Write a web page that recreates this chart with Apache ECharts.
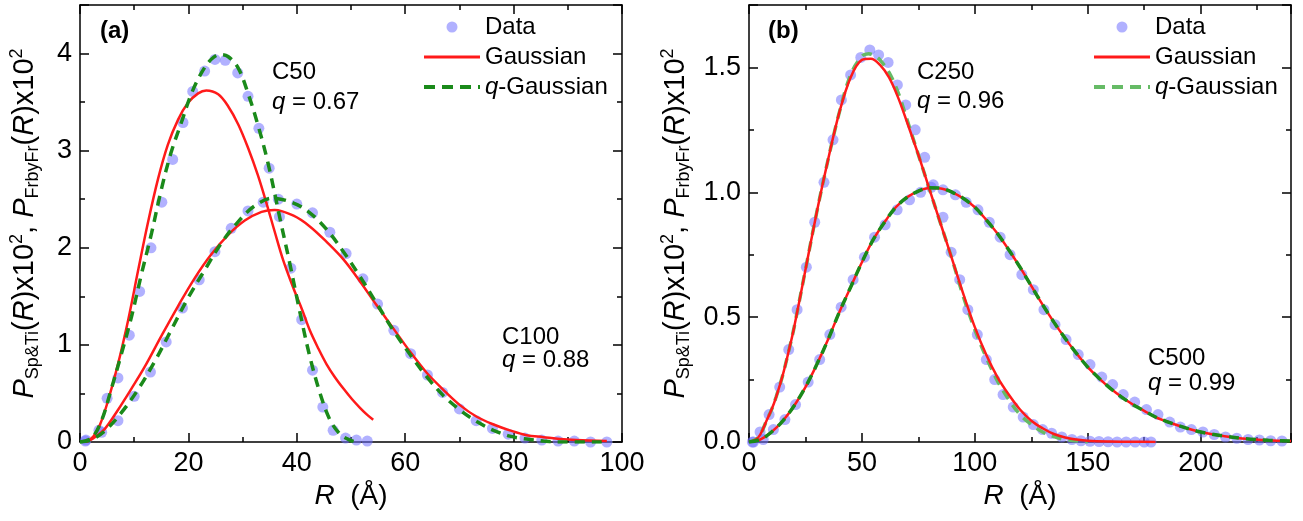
<!DOCTYPE html>
<html><head><meta charset="utf-8">
<script src="https://cdn.jsdelivr.net/npm/echarts@6/dist/echarts.min.js"></script>
<style>html,body{margin:0;padding:0;background:#fff}#c{width:1303px;height:521px}</style>
</head><body><div id="c"></div>
<script>
const FONT = 'Liberation Sans, Arial, sans-serif';

// ---- tick labels / axis ranges ----
const xTicksA = [0, 20, 40, 60, 80, 100];
const yTicksA = [0, 1, 2, 3, 4];
const xTicksB = [0, 50, 100, 150, 200];
const yTicksB = [0.0, 0.5, 1.0, 1.5];
const xMaxA = 100, yMaxA = 4.5, xMaxB = 240, yMaxB = 1.75;

// ---- panel (a) ----
const c50Data = [[1.1,0.02],[3.5,0.12],[5.0,0.45],[7.0,0.66],[9.1,1.10],[11.0,1.55],[13.1,2.00],[15.1,2.47],[17.1,2.91],[19.0,3.29],[20.8,3.61],[23.0,3.82],[24.9,3.94],[26.8,3.93],[29.1,3.80],[31.0,3.56],[33.0,3.23],[34.9,2.82],[36.8,2.32],[38.9,1.79],[40.9,1.26],[42.9,0.74],[44.8,0.36],[46.7,0.12],[49.0,0.04],[51.0,0.02],[53.0,0.01]];
const c100Data = [[1.0,0.01],[4.0,0.10],[7.0,0.22],[10.0,0.47],[13.0,0.72],[15.9,1.03],[18.9,1.38],[22.0,1.67],[24.9,1.96],[27.9,2.20],[31.0,2.38],[33.8,2.47],[36.6,2.50],[40.0,2.45],[42.9,2.36],[46.1,2.16],[49.1,1.94],[52.2,1.68],[54.9,1.42],[57.9,1.15],[61.0,0.91],[64.1,0.69],[66.9,0.51],[70.0,0.34],[73.1,0.22],[76.1,0.14],[79.0,0.08],[82.1,0.04],[85.2,0.02],[88.2,0.01],[91.2,0.01],[94.2,0.00],[97.2,0.00]];
const c50Gauss = [[1.2,0],[2.5,0.06],[3.7,0.18],[5.2,0.43],[7.0,0.80],[8.9,1.26],[10.7,1.76],[12.5,2.25],[14.4,2.71],[16.2,3.06],[18.1,3.32],[19.9,3.49],[21.8,3.59],[23.3,3.62],[25.5,3.58],[27.3,3.46],[29.2,3.27],[31.0,3.03],[32.8,2.75],[34.4,2.46],[35.9,2.17],[37.5,1.87],[39.4,1.58],[41.0,1.36],[42.4,1.15],[44.0,0.96],[45.5,0.80],[47.0,0.67],[48.6,0.55],[50.2,0.44],[51.7,0.35],[53.0,0.28],[54.1,0.23]];
const c100Gauss = [[1.0,0],[2.5,0.04],[4.5,0.13],[7.0,0.33],[9.5,0.55],[11.9,0.77],[15.0,1.09],[18.1,1.40],[21.2,1.69],[24.2,1.93],[27.3,2.13],[30.4,2.28],[33.5,2.37],[35.9,2.39],[39.4,2.33],[42.4,2.22],[45.5,2.06],[48.6,1.88],[51.7,1.65],[54.7,1.41],[57.8,1.17],[60.9,0.93],[64.0,0.71],[67.0,0.54],[70.1,0.38],[73.2,0.26],[76.3,0.18],[79.3,0.12],[82.4,0.07],[85.5,0.05],[88.6,0.03],[91.6,0.02],[97.2,0.01]];
const c50QGauss = [[0,0],[2.1,0.04],[3.9,0.21],[5.8,0.55],[7.6,0.90],[9.5,1.29],[11.3,1.72],[13.2,2.15],[15.0,2.60],[16.8,2.98],[18.7,3.29],[20.5,3.58],[22.4,3.80],[24.2,3.94],[25.8,3.99],[27.3,3.97],[29.2,3.85],[31.0,3.59],[32.8,3.27],[34.7,2.87],[36.9,2.30],[38.7,1.84],[40.6,1.33],[42.4,0.88],[44.3,0.50],[46.1,0.23],[48.0,0.08],[49.8,0.02],[51.0,0]];
const c100QGauss = [[0,0],[2.0,0.02],[4.5,0.11],[7.6,0.30],[10.7,0.54],[13.8,0.83],[16.8,1.15],[19.9,1.48],[23.0,1.77],[26.1,2.05],[29.2,2.27],[32.2,2.43],[35.5,2.51],[39.4,2.46],[42.4,2.36],[45.5,2.19],[48.6,1.96],[51.7,1.70],[54.7,1.43],[57.8,1.15],[60.9,0.90],[64.0,0.67],[67.0,0.48],[70.1,0.33],[73.2,0.21],[76.3,0.12],[79.3,0.06],[82.4,0.03],[85.5,0.01],[88.0,0],[97.2,0]];

// ---- panel (b) ----
const c250Data = [[1.5,0.00],[4.9,0.04],[8.9,0.11],[13.6,0.22],[17.6,0.37],[21.3,0.53],[25.4,0.70],[29.1,0.88],[33.2,1.04],[37.2,1.21],[40.9,1.37],[45.0,1.47],[49.5,1.54],[53.5,1.57],[57.4,1.55],[61.6,1.52],[65.7,1.43],[69.4,1.35],[73.6,1.25],[77.8,1.14],[81.6,1.03],[85.9,0.90],[89.5,0.76],[93.3,0.65],[96.9,0.53],[101.1,0.43],[105.1,0.33],[108.8,0.25],[112.5,0.19],[117.0,0.14],[121.4,0.10],[125.9,0.07],[130.0,0.05],[134.0,0.035],[138.5,0.02],[143.0,0.01],[147.0,0.005],[151.0,0.003],[155.0,0.002],[159.0,0.001],[163.0,0],[167.0,0],[171.0,0],[175.0,0],[178.0,0]];
const c500Data = [[2.0,0.00],[6.3,0.01],[10.8,0.05],[15.9,0.09],[20.6,0.15],[26.2,0.24],[31.3,0.33],[35.8,0.43],[40.8,0.54],[46.1,0.65],[51.1,0.74],[55.6,0.82],[60.3,0.87],[65.6,0.93],[71.1,0.97],[76.0,1.00],[80.7,1.02],[85.9,1.01],[91.4,0.99],[96.2,0.96],[101.4,0.93],[106.4,0.88],[111.2,0.82],[115.6,0.75],[120.8,0.67],[125.9,0.61],[130.6,0.53],[135.5,0.47],[140.4,0.41],[145.8,0.35],[151.0,0.31],[156.2,0.26],[161.0,0.23],[165.7,0.19],[170.8,0.16],[176.0,0.13],[181.1,0.11],[186.3,0.08],[191.0,0.06],[195.9,0.05],[201.0,0.04],[206.0,0.03],[211.0,0.02],[216.0,0.015],[221.0,0.01],[226.0,0.008],[231.0,0.005],[236.0,0.004]];
const c250Gauss = [[0,0],[3,0.01],[5,0.03],[8,0.09],[10,0.13],[12,0.18],[15,0.27],[18,0.38],[20,0.46],[25,0.69],[30,0.92],[35,1.13],[40,1.32],[45,1.46],[50,1.53],[54,1.535],[58,1.51],[62,1.46],[66,1.38],[70,1.28],[75,1.15],[80,1.01],[85,0.87],[90,0.73],[95,0.59],[100,0.46],[105,0.35],[110,0.26],[115,0.19],[120,0.13],[125,0.085],[130,0.055],[135,0.032],[140,0.018],[145,0.01],[150,0.005],[160,0.002],[170,0.001],[180,0]];
const c250QGauss = [[0,0],[3,0.01],[5,0.03],[8,0.09],[10,0.13],[12,0.18],[15,0.27],[18,0.38],[20,0.46],[25,0.69],[30,0.92],[35,1.13],[40,1.32],[45,1.47],[50,1.545],[53,1.555],[56,1.545],[58,1.53],[62,1.48],[66,1.40],[70,1.29],[75,1.15],[80,1.01],[85,0.87],[90,0.73],[95,0.58],[100,0.45],[105,0.34],[110,0.245],[115,0.17],[120,0.11],[125,0.07],[130,0.04],[135,0.022],[140,0.01],[145,0.005],[150,0]];
const c500Gauss = [[0,0],[5,0.01],[10,0.04],[15,0.085],[20,0.145],[25,0.22],[30,0.31],[35,0.41],[40,0.52],[45,0.62],[50,0.72],[55,0.81],[60,0.88],[65,0.94],[70,0.98],[75,1.005],[80,1.017],[85,1.015],[90,1.0],[95,0.975],[100,0.94],[105,0.89],[110,0.835],[115,0.77],[120,0.70],[125,0.625],[130,0.55],[135,0.48],[140,0.415],[145,0.355],[150,0.30],[155,0.255],[160,0.215],[165,0.18],[170,0.15],[175,0.125],[180,0.10],[185,0.082],[190,0.066],[195,0.052],[200,0.04],[205,0.031],[210,0.024],[220,0.013],[230,0.007],[240,0.004]];
const c500QGauss = [[0,0],[5,0.01],[10,0.04],[15,0.085],[20,0.145],[25,0.22],[30,0.31],[35,0.41],[40,0.52],[45,0.62],[50,0.72],[55,0.81],[60,0.88],[65,0.94],[70,0.98],[75,1.005],[80,1.018],[85,1.016],[90,1.0],[95,0.975],[100,0.94],[105,0.89],[110,0.835],[115,0.77],[120,0.70],[125,0.625],[130,0.55],[135,0.48],[140,0.415],[145,0.355],[150,0.30],[155,0.255],[160,0.215],[165,0.18],[170,0.15],[175,0.125],[180,0.10],[185,0.082],[190,0.066],[195,0.052],[200,0.04],[205,0.031],[210,0.024],[220,0.013],[230,0.007],[240,0.004]];

const DOT = 'rgba(110,110,255,0.68)';
const RED = '#ff1a1a';
const DKGREEN = '#1a8a1a';
const LTGREEN = '#66bb66';

const baseRich = {
  i: {fontStyle:'italic', fontSize:29, fontFamily:FONT, color:'#000', lineHeight:34},
  n: {fontSize:29, fontFamily:FONT, color:'#000', lineHeight:34},
  sub: {fontSize:18, fontFamily:FONT, color:'#000', lineHeight:16, verticalAlign:'bottom'},
  sup: {fontSize:18, fontFamily:FONT, color:'#000', lineHeight:22, verticalAlign:'top'}
};
const xRich = {
  i: {fontStyle:'italic', fontSize:28, fontFamily:FONT, color:'#000'},
  n: {fontSize:28, fontFamily:FONT, color:'#000'}
};
const yName = '{i|P}{sub|Sp&Ti}{n|(}{i|R}{n|)x10}{sup|2}{n|, }{i|P}{sub|FrbyFr}{n|(}{i|R}{n|)x10}{sup|2}';
const xName = '{i|R}{n|  (Å)}';

function axes(kind, gridIndex, ticks, max, decimals, nameGap) {
  const interval = ticks[1] - ticks[0];
  const lc = {color:'#000', width:1.5};
  const base = {
    type:'value', gridIndex, min:ticks[0], max, interval,
    axisLine:{show:true, onZero:false, lineStyle:lc},
    axisTick:{show:true, inside:true, length:9, lineStyle:lc},
    minorTick:{show:true, splitNumber:2, length:5, lineStyle:lc},
    splitLine:{show:false}, minorSplitLine:{show:false}
  };
  const main = Object.assign({}, base, {
    position: kind === 'x' ? 'bottom' : 'left',
    axisLabel:{show:true, margin:8, fontSize:27, fontFamily:FONT, color:'#000',
      formatter: v => { const t = ticks.find(t => Math.abs(t - v) < 1e-9); return t === undefined ? '' : t.toFixed(decimals); }},
    name: kind === 'x' ? xName : yName,
    nameLocation:'middle', nameGap, nameRotate: kind === 'x' ? 0 : 90, nameMoveOverlap:false,
    nameTextStyle:{rich: kind === 'x' ? xRich : baseRich}
  });
  const mirror = Object.assign({}, base, {position: kind === 'x' ? 'top' : 'right', axisLabel:{show:false}});
  return [main, mirror];
}

function scatter(name, data, xi, yi) {
  return {type:'scatter', name, data, xAxisIndex:xi, yAxisIndex:yi, symbol:'circle', symbolSize:11,
    itemStyle:{color:DOT}, z:2, silent:true};
}
function curve(name, data, xi, yi, color, width, dash, z) {
  return {type:'line', name, data, xAxisIndex:xi, yAxisIndex:yi, smooth:0.35, symbol:'none', showSymbol:false,
    lineStyle:{color, width, type:dash || 'solid'}, itemStyle:{color}, z, silent:true};
}

const legendText = {fontSize:24, fontFamily:FONT, color:'#000', lineHeight:24,
  rich:{i:{fontStyle:'italic', fontSize:24, fontFamily:FONT, color:'#000', lineHeight:24}}};
const legendFmt = n => n === 'q-Gaussian' ? '{i|q}-Gaussian' : n;
const hideSym = {opacity:0};

const xa = axes('x', 0, xTicksA, xMaxA, 0, 40);
const ya = axes('y', 0, yTicksA, yMaxA, 0, 38);
const xb = axes('x', 1, xTicksB, xMaxB, 0, 40);
const yb = axes('y', 1, yTicksB, yMaxB, 1, 56);

const txt = (left, top, text, extra) => ({type:'text', left, top, silent:true,
  style:Object.assign({text, fontSize:24, fontFamily:FONT, fill:'#000',
    rich:{i:{fontStyle:'italic', fontSize:24, fontFamily:FONT, fill:'#000'}}}, extra || {})});

const option = {
  animation:false,
  backgroundColor:'#fff',
  grid:[
    {left:80, top:5, width:542, height:437, outerBoundsMode:'none'},
    {left:749, top:5, width:542, height:437, outerBoundsMode:'none'}
  ],
  xAxis:[xa[0], xa[1], xb[0], xb[1]],
  yAxis:[ya[0], ya[1], yb[0], yb[1]],
  legend:[
    {left:422, top:15, orient:'vertical', padding:0, itemGap:6, itemWidth:56, itemHeight:11,
     selectedMode:false, textStyle:legendText, formatter:legendFmt,
     data:['Data',
       {name:'Gaussian', itemStyle:hideSym, lineStyle:{width:3}},
       {name:'q-Gaussian', itemStyle:hideSym, lineStyle:{width:4, type:[11, 7]}}]},
    {left:1092, top:15, orient:'vertical', padding:0, itemGap:6, itemWidth:56, itemHeight:11,
     selectedMode:false, textStyle:legendText, formatter:legendFmt,
     data:['Data',
       {name:'Gaussian', itemStyle:hideSym, lineStyle:{width:3}},
       {name:'q-Gaussian', lineStyle:{color:LTGREEN, width:4, type:[11, 7]}, itemStyle:hideSym}]}
  ],
  graphic:[
    txt(100, 19, '(a)', {fontWeight:'bold'}),
    txt(272, 60, 'C50'),
    txt(272, 90, '{i|q} = 0.67'),
    txt(502, 325, 'C100'),
    txt(502, 348, '{i|q} = 0.88'),
    txt(768, 19, '(b)', {fontWeight:'bold'}),
    txt(917, 60, 'C250'),
    txt(917, 89, '{i|q} = 0.96'),
    txt(1148, 346, 'C500'),
    txt(1148, 371, '{i|q} = 0.99')
  ],
  series:[
    scatter('Data', c50Data, 0, 0),
    scatter('Data', c100Data, 0, 0),
    curve('Gaussian', c50Gauss, 0, 0, RED, 2.5, null, 3),
    curve('Gaussian', c100Gauss, 0, 0, RED, 2.5, null, 3),
    curve('q-Gaussian', c50QGauss, 0, 0, DKGREEN, 3.5, [10, 7], 4),
    curve('q-Gaussian', c100QGauss, 0, 0, DKGREEN, 3.5, [10, 7], 4),

    scatter('Data', c250Data, 2, 2),
    scatter('Data', c500Data, 2, 2),
    curve('q-Gaussian', c250QGauss, 2, 2, LTGREEN, 3.5, [10, 7], 3),
    curve('Gaussian', c250Gauss, 2, 2, RED, 2.5, null, 4),
    curve('Gaussian', c500Gauss, 2, 2, RED, 2.5, null, 4),
    curve('q-Gaussian', c500QGauss, 2, 2, DKGREEN, 3.5, [10, 7], 5)
  ]
};
const chart = echarts.init(document.getElementById('c'), null, {renderer:'canvas'});
chart.setOption(option);
</script></body></html>
